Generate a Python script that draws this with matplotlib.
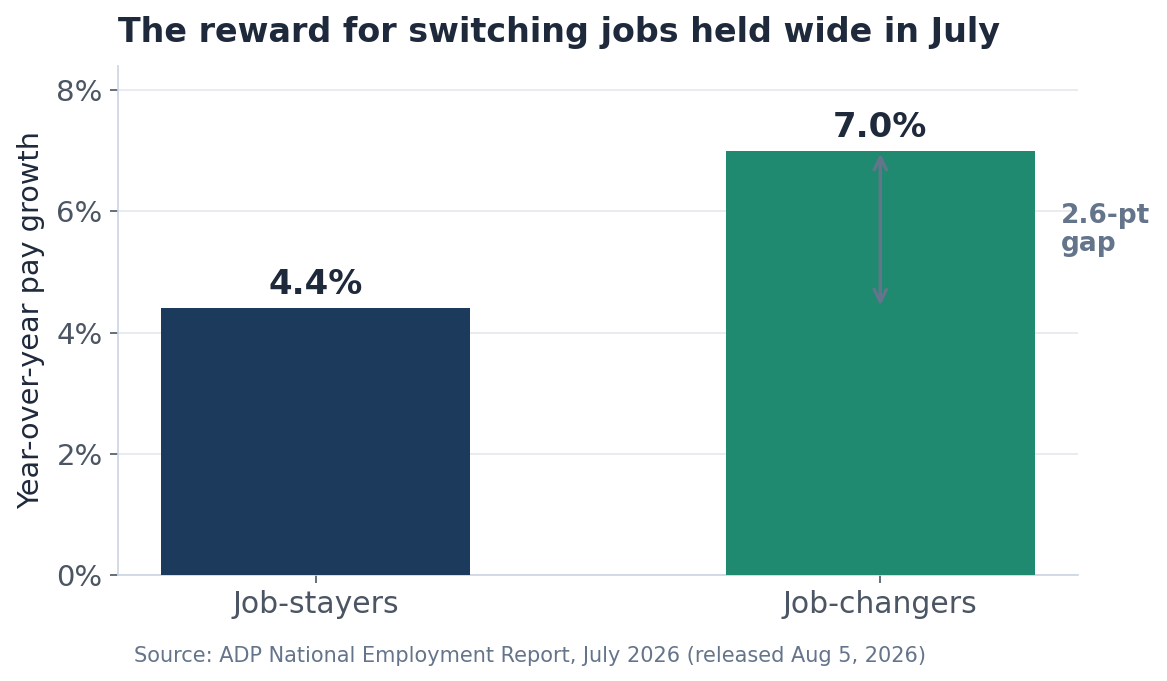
import matplotlib
matplotlib.use("Agg")
import matplotlib.pyplot as plt
from matplotlib.ticker import FuncFormatter

plt.rcParams["font.family"] = ["DejaVu Sans"]

categories = ["Job-stayers", "Job-changers"]
values = [4.4, 7.0]
bar_colors = ["#1c3a5c", "#1f8a70"]
yticks = [0, 2, 4, 6, 8]
title = "The reward for switching jobs held wide in July"
ylabel = "Year-over-year pay growth"
source = "Source: ADP National Employment Report, July 2026 (released Aug 5, 2026)"
gap_label = "2.6-pt\ngap"

fig = plt.figure(figsize=(11.67, 6.81), dpi=100)
ax = fig.add_axes([0.1011, 0.1557, 0.8226, 0.7474])

x = list(range(len(categories)))
ax.bar(x, values, width=0.547, color=bar_colors, zorder=3)
ax.set_xlim(-0.35, 1.35)
ax.set_ylim(0, 8.4)
ax.set_yticks(yticks)
ax.yaxis.set_major_formatter(FuncFormatter(lambda v, p: f"{v:.0f}%"))
ax.set_xticks(x)
ax.set_xticklabels(categories)

ax.grid(axis="y", color="#e5e7eb", linewidth=1.2, zorder=0)
ax.set_axisbelow(True)
for s in ["top", "right"]:
    ax.spines[s].set_visible(False)
for s in ["left", "bottom"]:
    ax.spines[s].set_color("#cbd5e1")
    ax.spines[s].set_linewidth(1.2)
ax.tick_params(axis="both", colors="#4b5563", labelsize=21, length=6, width=1.2)
ax.tick_params(axis="x", labelsize=21.5, pad=5)
ax.tick_params(axis="y", pad=5)
for t in ax.get_xticklines() + ax.get_yticklines():
    t.set_color("#374151")

ax.set_ylabel(ylabel, fontsize=20.7, color="#1e293b", labelpad=8)
ax.set_title(title, loc="left", fontsize=24, fontweight="bold", color="#1e293b", pad=17)

for xi, v in zip(x, values):
    ax.annotate(f"{v:.1f}%", (xi, v), xytext=(0, 5), textcoords="offset points",
                ha="center", va="bottom", fontsize=24.5, fontweight="bold", color="#1e293b")

ax.annotate("", xy=(1, values[1]), xytext=(1, values[0]),
            arrowprops=dict(arrowstyle="<->", color="#64748b", lw=2.5,
                            shrinkA=2, shrinkB=2, mutation_scale=22), zorder=4)
ax.text(1.32, (values[0] + values[1]) / 2 + 0.0, gap_label, ha="left", va="center",
        fontsize=19, fontweight="bold", color="#64748b", clip_on=False, linespacing=1.1)

fig.text(134 / 1167, 1 - 656 / 681, source, ha="left", va="center", fontsize=15, color="#64748b")

fig.savefig("out.png", dpi=100)
